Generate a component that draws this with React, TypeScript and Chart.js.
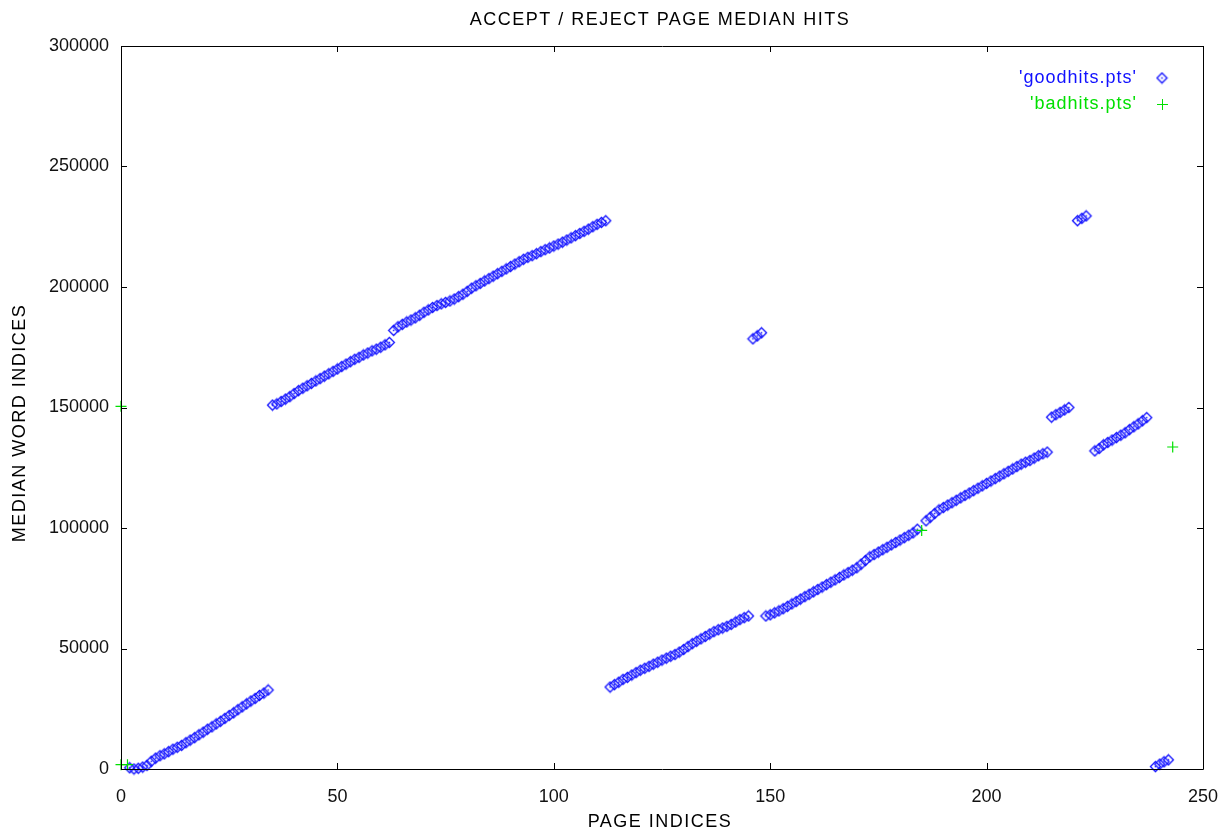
import React, { useEffect, useRef } from "react";
import { Chart, registerables } from "chart.js";

Chart.register(...registerables);

// ---------------- DATA ----------------
const TITLE = "ACCEPT / REJECT PAGE MEDIAN HITS";
const X_TITLE = "PAGE INDICES";
const Y_TITLE = "MEDIAN WORD INDICES";
const GOOD_LABEL = "'goodhits.pts'";
const BAD_LABEL = "'badhits.pts'";

const X_MIN = 0;
const X_MAX = 250;
const X_STEP = 50;
const Y_MIN = 0;
const Y_MAX = 300000;
const Y_STEP = 50000;

// good hits, grouped in runs of consecutive pages (first page + median word index per page)
const segA_start = 2;
const segA = [500, 0, 300, 800, 1500, 3200, 4500, 5500, 6300, 7200, 8200, 9000, 9800, 10900, 12000, 13000, 14200, 15300, 16500, 17500, 18700, 19800, 21000, 22200, 23300, 24600, 25800, 27000, 28200, 29300, 30500, 31500, 32800];
const segB_start = 35;
const segB = [151000, 151500, 152500, 153500, 154500, 155800, 157000, 158000, 159000, 160000, 161000, 162000, 163000, 164000, 165000, 166000, 167000, 168000, 169000, 170000, 170800, 171800, 172600, 173500, 174200, 175000, 176000, 177000];
const segC_start = 63;
const segC = [182000, 183500, 184500, 185500, 186300, 187200, 188300, 189500, 190500, 191500, 192300, 193000, 193600, 194200, 195000, 196000, 197000, 198200, 199500, 200500, 201500, 202500, 203500, 204500, 205500, 206500, 207500, 208500, 209500, 210500, 211500, 212300, 213000, 213800, 214700, 215500, 216200, 217000, 217800, 218600, 219500, 220400, 221300, 222200, 223100, 224000, 225000, 226000, 226800, 227500];
const segD_start = 113;
const segD = [34000, 35000, 36000, 37200, 38000, 39000, 40000, 41000, 41800, 42600, 43500, 44300, 45200, 46000, 46800, 47500, 48500, 49600, 50800, 52000, 53000, 54000, 55000, 56000, 57000, 57800, 58500, 59200, 60000, 61000, 62000, 62800, 63500];
const segE_start = 146;
const segE = [178500, 179700, 181000];
const segF_start = 149;
const segF = [63500, 64000, 64800, 65600, 66500, 67500, 68500, 69500, 70500, 71500, 72500, 73500, 74500, 75500, 76500, 77500, 78500, 79500, 80500, 81500, 82500, 83500, 85000, 86500, 88000, 89000, 90000, 91000, 92000, 93000, 94000, 95000, 96000, 97000, 98000, 99500];
const segG_start = 186;
const segG = [103000, 104500, 106000, 107500, 108500, 109500, 110500, 111500, 112500, 113500, 114500, 115500, 116500, 117500, 118500, 119500, 120500, 121500, 122500, 123500, 124500, 125500, 126500, 127300, 128000, 129000, 130000, 130800, 131500];
const segH_start = 215;
const segH = [146000, 147000, 148000, 149000, 150000];
const segI_start = 221;
const segI = [227500, 228500, 229500];
const segJ_start = 225;
const segJ = [132000, 133000, 134500, 135500, 136500, 137500, 138500, 139500, 140800, 142000, 143200, 144500, 145800];
const segK_start = 239;
const segK = [1000, 2000, 3000, 3800];

// bad hits
const badPages = [0, 0, 1.5, 185, 243];
const badValues = [150500, 1800, 1800, 99000, 133600];

const GOOD_COLOR = "#1010ff";
const BAD_COLOR = "#00e000";
const FONT = "'Liberation Sans', Arial, sans-serif";

function runToPoints(start: number, vals: number[]) {
  return vals.map((v, i) => ({ x: start + i, y: v }));
}

const goodPoints = [
  ...runToPoints(segA_start, segA),
  ...runToPoints(segB_start, segB),
  ...runToPoints(segC_start, segC),
  ...runToPoints(segD_start, segD),
  ...runToPoints(segE_start, segE),
  ...runToPoints(segF_start, segF),
  ...runToPoints(segG_start, segG),
  ...runToPoints(segH_start, segH),
  ...runToPoints(segI_start, segI),
  ...runToPoints(segJ_start, segJ),
  ...runToPoints(segK_start, segK),
];
const badPoints = badPages.map((p, i) => ({ x: p, y: badValues[i] }));

// diamond with a centre dot (gnuplot style)
function makeDiamond(color: string) {
  const c = document.createElement("canvas");
  c.width = 13;
  c.height = 13;
  const g = c.getContext("2d")!;
  g.strokeStyle = color;
  g.fillStyle = color;
  g.lineWidth = 1.3;
  g.beginPath();
  g.moveTo(6.5, 1.5);
  g.lineTo(11.5, 6.5);
  g.lineTo(6.5, 11.5);
  g.lineTo(1.5, 6.5);
  g.closePath();
  g.stroke();
  g.fillRect(5.75, 5.75, 1.5, 1.5);
  return c;
}

const framePlugin = {
  id: "gnuFrame",
  afterDatasetsDraw(chart: any) {
    const { ctx, chartArea } = chart;
    const { left, right, top, bottom } = chartArea;
    const xs = chart.scales.x;
    const ys = chart.scales.y;
    ctx.save();
    ctx.strokeStyle = "#000";
    ctx.lineWidth = 1;
    ctx.beginPath();
    ctx.rect(Math.round(left) + 0.5, Math.round(top) + 0.5, Math.round(right - left), Math.round(bottom - top));
    ctx.stroke();
    const tl = 6;
    ctx.beginPath();
    for (let v = X_MIN; v <= X_MAX; v += X_STEP) {
      const px = Math.round(xs.getPixelForValue(v)) + 0.5;
      ctx.moveTo(px, bottom);
      ctx.lineTo(px, bottom - tl);
      ctx.moveTo(px, top);
      ctx.lineTo(px, top + tl);
    }
    for (let v = Y_MIN; v <= Y_MAX; v += Y_STEP) {
      const py = Math.round(ys.getPixelForValue(v)) + 0.5;
      ctx.moveTo(left, py);
      ctx.lineTo(left + tl, py);
      ctx.moveTo(right, py);
      ctx.lineTo(right - tl, py);
    }
    ctx.stroke();

    // texts
    ctx.fillStyle = "#000";
    ctx.font = `18px ${FONT}`;
    (ctx as any).letterSpacing = "1.5px";
    ctx.textAlign = "center";
    ctx.textBaseline = "middle";
    ctx.fillText(TITLE, 660, 20);
    ctx.fillText(X_TITLE, 660, 822);
    ctx.save();
    ctx.translate(20, 423);
    ctx.rotate(-Math.PI / 2);
    ctx.fillText(Y_TITLE, 0, 0);
    ctx.restore();

    // legend (gnuplot style: text then sample)
    (ctx as any).letterSpacing = "1px";
    ctx.textAlign = "right";
    ctx.fillStyle = GOOD_COLOR;
    ctx.fillText(GOOD_LABEL, 1137, 78);
    ctx.fillStyle = BAD_COLOR;
    ctx.fillText(BAD_LABEL, 1137, 104);
    ctx.drawImage(makeDiamond(GOOD_COLOR), 1162 - 6.5, 78 - 6.5);
    ctx.strokeStyle = BAD_COLOR;
    ctx.beginPath();
    ctx.moveTo(1162 - 5, 104.5);
    ctx.lineTo(1162 + 6, 104.5);
    ctx.moveTo(1162.5, 104 - 5);
    ctx.lineTo(1162.5, 104 + 6);
    ctx.stroke();
    ctx.restore();
  },
};

export default function App() {
  const ref = useRef<HTMLCanvasElement | null>(null);
  useEffect(() => {
    document.body.style.margin = "0";
    const canvas = ref.current;
    if (!canvas) return;
    const diamond = makeDiamond(GOOD_COLOR);
    const chart = new Chart(canvas, {
      type: "scatter",
      data: {
        datasets: [
          {
            label: GOOD_LABEL,
            data: goodPoints,
            pointStyle: diamond,
            pointRadius: 6,
            borderColor: GOOD_COLOR,
            backgroundColor: GOOD_COLOR,
            clip: false,
            order: 1,
          } as any,
          {
            label: BAD_LABEL,
            data: badPoints,
            pointStyle: "cross",
            pointRadius: 5.5,
            pointBorderWidth: 1.2,
            borderColor: BAD_COLOR,
            pointBorderColor: BAD_COLOR,
            clip: false,
            order: 0,
          } as any,
        ],
      },
      options: {
        animation: false,
        responsive: false,
        devicePixelRatio: 1,
        layout: { padding: { left: 0, top: 46, right: 17, bottom: 0 } },
        plugins: {
          legend: { display: false },
          title: { display: false },
          tooltip: { enabled: false },
        },
        scales: {
          x: {
            type: "linear",
            min: X_MIN,
            max: X_MAX,
            grid: { display: false, drawTicks: false },
            border: { display: false },
            ticks: {
              stepSize: X_STEP,
              padding: 17,
              color: "#111",
              font: { family: FONT, size: 18 },
              maxRotation: 0,
            },
            afterFit(scale: any) {
              scale.height = 60;
              scale.paddingLeft = 0;
              scale.paddingRight = 0;
            },
          },
          y: {
            type: "linear",
            min: Y_MIN,
            max: Y_MAX,
            grid: { display: false, drawTicks: false },
            border: { display: false },
            ticks: {
              stepSize: Y_STEP,
              padding: 12,
              color: "#111",
              font: { family: FONT, size: 18 },
              callback: (v: any) => String(v),
            },
            afterFit(scale: any) {
              scale.width = 121;
              scale.paddingTop = 0;
              scale.paddingBottom = 0;
            },
          },
        },
      },
      plugins: [framePlugin],
    });
    return () => chart.destroy();
  }, []);
  return <canvas ref={ref} width={1220} height={829} style={{ display: "block" }} />;
}
